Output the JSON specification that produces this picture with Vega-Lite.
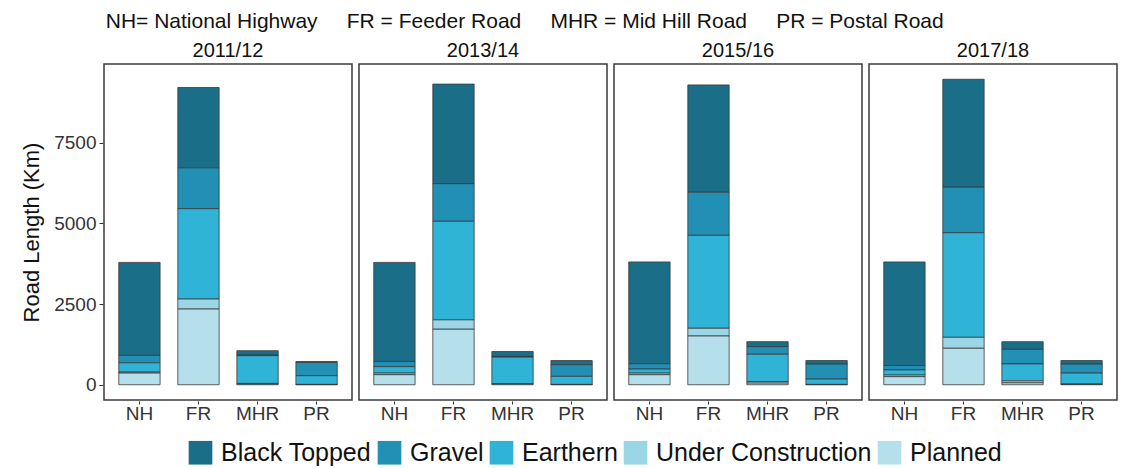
{
  "$schema": "https://vega.github.io/schema/vega-lite/v6.json",
  "padding": {"left": 20, "top": 11, "right": 5, "bottom": 0},
  "background": "white",
  "title": {
    "text": "NH= National Highway\u00a0\u00a0\u00a0\u00a0\u00a0FR = Feeder Road\u00a0\u00a0\u00a0\u00a0\u00a0MHR = Mid Hill Road\u00a0\u00a0\u00a0\u00a0\u00a0PR = Postal Road",
    "anchor": "start",
    "fontSize": 21,
    "fontWeight": "normal",
    "font": "Liberation Sans",
    "color": "#111",
    "offset": 9,
    "dx": 85
  },
  "data": {
    "values": [
      {"year": "2011/12", "road": "NH", "type": "Black Topped", "km": 2880},
      {"year": "2011/12", "road": "NH", "type": "Gravel", "km": 230},
      {"year": "2011/12", "road": "NH", "type": "Earthern", "km": 290},
      {"year": "2011/12", "road": "NH", "type": "Under Construction", "km": 30},
      {"year": "2011/12", "road": "NH", "type": "Planned", "km": 360},
      {"year": "2011/12", "road": "FR", "type": "Black Topped", "km": 2490},
      {"year": "2011/12", "road": "FR", "type": "Gravel", "km": 1265},
      {"year": "2011/12", "road": "FR", "type": "Earthern", "km": 2800},
      {"year": "2011/12", "road": "FR", "type": "Under Construction", "km": 310},
      {"year": "2011/12", "road": "FR", "type": "Planned", "km": 2345},
      {"year": "2011/12", "road": "MHR", "type": "Black Topped", "km": 135},
      {"year": "2011/12", "road": "MHR", "type": "Gravel", "km": 20},
      {"year": "2011/12", "road": "MHR", "type": "Earthern", "km": 860},
      {"year": "2011/12", "road": "MHR", "type": "Under Construction", "km": 20},
      {"year": "2011/12", "road": "MHR", "type": "Planned", "km": 20},
      {"year": "2011/12", "road": "PR", "type": "Black Topped", "km": 30},
      {"year": "2011/12", "road": "PR", "type": "Gravel", "km": 410},
      {"year": "2011/12", "road": "PR", "type": "Earthern", "km": 270},
      {"year": "2011/12", "road": "PR", "type": "Under Construction", "km": 5},
      {"year": "2011/12", "road": "PR", "type": "Planned", "km": 5},
      {"year": "2013/14", "road": "NH", "type": "Black Topped", "km": 3070},
      {"year": "2013/14", "road": "NH", "type": "Gravel", "km": 160},
      {"year": "2013/14", "road": "NH", "type": "Earthern", "km": 200},
      {"year": "2013/14", "road": "NH", "type": "Under Construction", "km": 50},
      {"year": "2013/14", "road": "NH", "type": "Planned", "km": 310},
      {"year": "2013/14", "road": "FR", "type": "Black Topped", "km": 3085},
      {"year": "2013/14", "road": "FR", "type": "Gravel", "km": 1165},
      {"year": "2013/14", "road": "FR", "type": "Earthern", "km": 3055},
      {"year": "2013/14", "road": "FR", "type": "Under Construction", "km": 290},
      {"year": "2013/14", "road": "FR", "type": "Planned", "km": 1720},
      {"year": "2013/14", "road": "MHR", "type": "Black Topped", "km": 155},
      {"year": "2013/14", "road": "MHR", "type": "Gravel", "km": 20},
      {"year": "2013/14", "road": "MHR", "type": "Earthern", "km": 820},
      {"year": "2013/14", "road": "MHR", "type": "Under Construction", "km": 15},
      {"year": "2013/14", "road": "MHR", "type": "Planned", "km": 20},
      {"year": "2013/14", "road": "PR", "type": "Black Topped", "km": 130},
      {"year": "2013/14", "road": "PR", "type": "Gravel", "km": 360},
      {"year": "2013/14", "road": "PR", "type": "Earthern", "km": 250},
      {"year": "2013/14", "road": "PR", "type": "Under Construction", "km": 5},
      {"year": "2013/14", "road": "PR", "type": "Planned", "km": 5},
      {"year": "2015/16", "road": "NH", "type": "Black Topped", "km": 3155},
      {"year": "2015/16", "road": "NH", "type": "Gravel", "km": 165},
      {"year": "2015/16", "road": "NH", "type": "Earthern", "km": 125},
      {"year": "2015/16", "road": "NH", "type": "Under Construction", "km": 50},
      {"year": "2015/16", "road": "NH", "type": "Planned", "km": 310},
      {"year": "2015/16", "road": "FR", "type": "Black Topped", "km": 3325},
      {"year": "2015/16", "road": "FR", "type": "Gravel", "km": 1335},
      {"year": "2015/16", "road": "FR", "type": "Earthern", "km": 2880},
      {"year": "2015/16", "road": "FR", "type": "Under Construction", "km": 240},
      {"year": "2015/16", "road": "FR", "type": "Planned", "km": 1510},
      {"year": "2015/16", "road": "MHR", "type": "Black Topped", "km": 155},
      {"year": "2015/16", "road": "MHR", "type": "Gravel", "km": 235},
      {"year": "2015/16", "road": "MHR", "type": "Earthern", "km": 845},
      {"year": "2015/16", "road": "MHR", "type": "Under Construction", "km": 50},
      {"year": "2015/16", "road": "MHR", "type": "Planned", "km": 50},
      {"year": "2015/16", "road": "PR", "type": "Black Topped", "km": 110},
      {"year": "2015/16", "road": "PR", "type": "Gravel", "km": 465},
      {"year": "2015/16", "road": "PR", "type": "Earthern", "km": 165},
      {"year": "2015/16", "road": "PR", "type": "Under Construction", "km": 5},
      {"year": "2015/16", "road": "PR", "type": "Planned", "km": 5},
      {"year": "2017/18", "road": "NH", "type": "Black Topped", "km": 3210},
      {"year": "2017/18", "road": "NH", "type": "Gravel", "km": 135},
      {"year": "2017/18", "road": "NH", "type": "Earthern", "km": 160},
      {"year": "2017/18", "road": "NH", "type": "Under Construction", "km": 50},
      {"year": "2017/18", "road": "NH", "type": "Planned", "km": 250},
      {"year": "2017/18", "road": "FR", "type": "Black Topped", "km": 3345},
      {"year": "2017/18", "road": "FR", "type": "Gravel", "km": 1410},
      {"year": "2017/18", "road": "FR", "type": "Earthern", "km": 3240},
      {"year": "2017/18", "road": "FR", "type": "Under Construction", "km": 340},
      {"year": "2017/18", "road": "FR", "type": "Planned", "km": 1130},
      {"year": "2017/18", "road": "MHR", "type": "Black Topped", "km": 237},
      {"year": "2017/18", "road": "MHR", "type": "Gravel", "km": 452},
      {"year": "2017/18", "road": "MHR", "type": "Earthern", "km": 525},
      {"year": "2017/18", "road": "MHR", "type": "Under Construction", "km": 60},
      {"year": "2017/18", "road": "MHR", "type": "Planned", "km": 60},
      {"year": "2017/18", "road": "PR", "type": "Black Topped", "km": 110},
      {"year": "2017/18", "road": "PR", "type": "Gravel", "km": 280},
      {"year": "2017/18", "road": "PR", "type": "Earthern", "km": 340},
      {"year": "2017/18", "road": "PR", "type": "Under Construction", "km": 10},
      {"year": "2017/18", "road": "PR", "type": "Planned", "km": 10}
    ]
  },
  "transform": [
    {"calculate": "indexof(['Planned', 'Under Construction', 'Earthern', 'Gravel', 'Black Topped'], datum.type)", "as": "stackOrder"}
  ],
  "facet": {
    "column": {"field": "year", "type": "nominal", "title": null}
  },
  "spacing": 5,
  "spec": {
    "width": 248,
    "height": 336,
    "mark": {"type": "bar", "stroke": "#3a3a3a", "strokeWidth": 0.8},
    "encoding": {
      "x": {
        "field": "road",
        "type": "nominal",
        "sort": ["NH", "FR", "MHR", "PR"],
        "title": null,
        "scale": {"paddingInner": 0.3, "paddingOuter": 0.25},
        "axis": {"labelAngle": 0, "domain": false, "tickSize": 3, "tickColor": "#333", "labelPadding": 0}
      },
      "y": {
        "field": "km",
        "type": "quantitative",
        "stack": "zero",
        "title": "Road Length (Km)",
        "scale": {"domain": [-473, 9938], "nice": false, "zero": false},
        "axis": {"values": [0, 2500, 5000, 7500], "format": "d", "grid": false, "domain": false, "tickSize": 4, "tickColor": "#333", "labelPadding": 3, "titlePadding": 10}
      },
      "order": {"field": "stackOrder", "type": "quantitative", "sort": "ascending"},
      "color": {
        "field": "type",
        "type": "nominal",
        "sort": ["Black Topped", "Gravel", "Earthern", "Under Construction", "Planned"],
        "scale": {
          "domain": ["Black Topped", "Gravel", "Earthern", "Under Construction", "Planned"],
          "range": ["#1b6e87", "#2290b5", "#2fb3d6", "#9ad6e6", "#b5dfeb"]
        },
        "legend": {
          "title": null,
          "orient": "none",
          "legendX": 84,
          "legendY": 376,
          "direction": "horizontal",
          "symbolType": "square",
          "symbolSize": 560,
          "symbolStrokeWidth": 0,
          "labelFontSize": 25,
          "labelFont": "Liberation Sans",
          "labelColor": "#111",
          "labelLimit": 0,
          "columnPadding": 5,
          "labelOffset": 8
        }
      }
    }
  },
  "config": {
    "font": "Liberation Sans",
    "view": {"stroke": "#3a3a3a", "strokeWidth": 1.5},
    "axis": {"labelFontSize": 19, "labelColor": "#333", "titleFontSize": 22, "titleFontWeight": "normal", "titleColor": "#111", "labelFont": "Liberation Sans", "titleFont": "Liberation Sans"},
    "header": {"labelFontSize": 20, "labelPadding": 2, "labelColor": "#111", "labelFont": "Liberation Sans"}
  }
}
